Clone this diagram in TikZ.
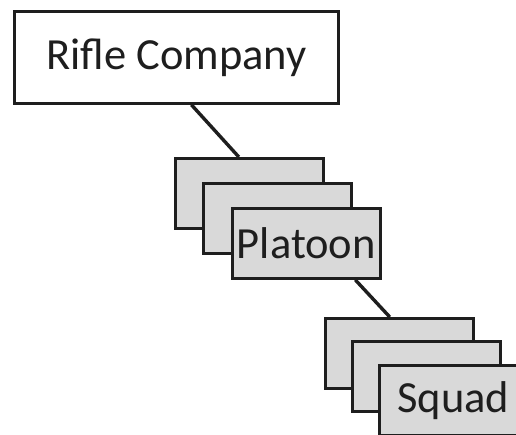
\documentclass[tikz,border=0pt]{standalone}
\usepackage{fontspec}
\setmainfont{Carlito}
\usetikzlibrary{calc}
\definecolor{boxgray}{HTML}{D9D9D9}
\definecolor{ink}{HTML}{1E1E1E}
\tikzset{
  unitbox/.style={draw=ink, line width=2.8pt, rectangle, inner sep=0pt, anchor=north west,
    text=ink, font=\fontsize{44.5}{50}\selectfont},
  topbox/.style={unitbox, fill=white, minimum width=324pt, minimum height=92pt},
  subbox/.style={unitbox, fill=boxgray, minimum width=148pt, minimum height=70pt},
  link/.style={draw=ink, line width=3.4pt}
}
\begin{document}
\begin{tikzpicture}[x=1pt,y=-1pt]
\useasboundingbox (0,0) rectangle (516,434);
\clip (0,0) rectangle (516,434);
\node[topbox] (rc) at (13,10) {Rifle Company};
\node[subbox] (p1) at (174,157) {};
\node[subbox] (p2) at (202,182) {};
\node[subbox] (p3) at (231,207) {Platoon};
\node[subbox] (s1) at (324,317) {};
\node[subbox] (s2) at (351,340) {};
\node[subbox] (s3) at (378,364) {Squad};
\draw[link] ($(rc.south west)!0.546!(rc.south east)$) -- ($(p1.north west)!0.43!(p1.north east)$);
\draw[link] ($(p3.south west)!0.824!(p3.south east)$) -- ($(s1.north west)!0.436!(s1.north east)$);
\end{tikzpicture}
\end{document}
